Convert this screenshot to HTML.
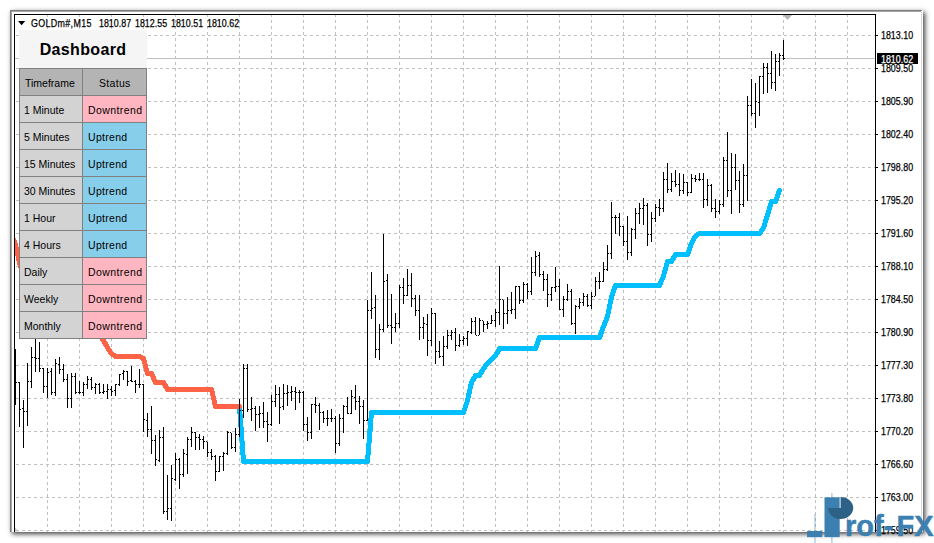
<!DOCTYPE html>
<html><head><meta charset="utf-8"><title>GOLDm#,M15</title>
<style>
html,body{margin:0;padding:0;background:#fff;}
body{width:934px;height:543px;overflow:hidden;position:relative;font-family:"Liberation Sans",sans-serif;}
#frame{position:absolute;left:10px;top:10px;width:913px;height:522px;background:#fff;box-shadow:2px 2px 5px rgba(0,0,0,.75);}
#b1{position:absolute;left:10px;top:10px;width:912px;height:522px;box-sizing:border-box;border-left:1px solid #7c7c7c;border-top:1px solid #7c7c7c;}
#b2{position:absolute;left:11px;top:11px;width:910px;height:521px;box-sizing:border-box;border-left:1px solid #a6a6a6;border-top:1px solid #a6a6a6;}
#bl{position:absolute;left:14px;top:14px;width:1px;height:518px;background:#000;}
#bt{position:absolute;left:14px;top:14px;width:862px;height:1px;background:#000;}
#ax{position:absolute;left:875px;top:14px;width:1px;height:518px;background:#000;}
svg{position:absolute;left:0;top:0;}
.tk{position:absolute;left:876px;width:2px;height:1px;background:#000;}
.pl{-webkit-text-stroke:.25px currentColor;position:absolute;left:881.3px;transform-origin:0 50%;transform:scaleX(.887);font-size:10px;line-height:12px;height:12px;color:#000;white-space:nowrap;}
#bid{position:absolute;left:877px;top:53px;width:41px;height:11px;background:#000;color:#fff;line-height:11px;box-sizing:border-box;}
.tt{-webkit-text-stroke:.25px currentColor;position:absolute;top:17.5px;font-size:10px;transform-origin:0 50%;transform:scaleX(.887);line-height:12px;color:#000;white-space:pre;}
#tri{position:absolute;left:18px;top:21px;width:0;height:0;border-left:3.5px solid transparent;border-right:3.5px solid transparent;border-top:4px solid #000;}
#dt{position:absolute;left:19px;top:30px;width:128px;height:38px;background:#f5f5f5;text-align:center;font-weight:bold;font-size:16px;line-height:39px;letter-spacing:.35px;color:#000;}
.c{position:absolute;height:28px;box-sizing:border-box;border:1px solid #808080;font-size:10.5px;color:#000;background:#d3d3d3;}
.c span{position:absolute;left:4px;top:1px;line-height:27px;white-space:nowrap;}
.c.l{left:19px;width:64px;}
.c.r{left:82px;width:65px;}
.c.h{background:#b4b4b4;}
.c.dn{background:#ffb6c1;}
.c.dn span{left:5px;letter-spacing:.4px;}
.c.up span{left:5px;letter-spacing:.3px;}
.c.up{background:#87ceeb;}
#wm{position:absolute;left:0;top:0;}
#wt{position:absolute;left:845px;top:507.6px;font-weight:bold;font-size:29px;line-height:36px;color:#3b80b1;white-space:nowrap;transform-origin:0 0;transform:scaleX(1.0);-webkit-text-stroke:.5px #3b80b1;}
</style></head><body>
<div id="frame"></div><div id="b1"></div><div id="b2"></div>
<svg width="934" height="543" viewBox="0 0 934 543">
<defs><clipPath id="cp"><rect x="15" y="15" width="860" height="517"/></clipPath></defs>
<g clip-path="url(#cp)">
<g stroke="#c0c0c0" stroke-width="1" stroke-dasharray="3 3" shape-rendering="crispEdges"><line x1="16" y1="35.5" x2="875" y2="35.5"/><line x1="16" y1="68.5" x2="875" y2="68.5"/><line x1="16" y1="101.5" x2="875" y2="101.5"/><line x1="16" y1="134.5" x2="875" y2="134.5"/><line x1="16" y1="167.5" x2="875" y2="167.5"/><line x1="16" y1="200.5" x2="875" y2="200.5"/><line x1="16" y1="233.5" x2="875" y2="233.5"/><line x1="16" y1="266.5" x2="875" y2="266.5"/><line x1="16" y1="299.5" x2="875" y2="299.5"/><line x1="16" y1="332.5" x2="875" y2="332.5"/><line x1="16" y1="365.5" x2="875" y2="365.5"/><line x1="16" y1="398.5" x2="875" y2="398.5"/><line x1="16" y1="431.5" x2="875" y2="431.5"/><line x1="16" y1="464.5" x2="875" y2="464.5"/><line x1="16" y1="497.5" x2="875" y2="497.5"/><line x1="16" y1="530.5" x2="875" y2="530.5"/><line x1="47.5" y1="14" x2="47.5" y2="532"/><line x1="79.5" y1="14" x2="79.5" y2="532"/><line x1="111.5" y1="14" x2="111.5" y2="532"/><line x1="143.5" y1="14" x2="143.5" y2="532"/><line x1="175.5" y1="14" x2="175.5" y2="532"/><line x1="207.5" y1="14" x2="207.5" y2="532"/><line x1="239.5" y1="14" x2="239.5" y2="532"/><line x1="271.5" y1="14" x2="271.5" y2="532"/><line x1="303.5" y1="14" x2="303.5" y2="532"/><line x1="335.5" y1="14" x2="335.5" y2="532"/><line x1="367.5" y1="14" x2="367.5" y2="532"/><line x1="399.5" y1="14" x2="399.5" y2="532"/><line x1="431.5" y1="14" x2="431.5" y2="532"/><line x1="463.5" y1="14" x2="463.5" y2="532"/><line x1="495.5" y1="14" x2="495.5" y2="532"/><line x1="527.5" y1="14" x2="527.5" y2="532"/><line x1="559.5" y1="14" x2="559.5" y2="532"/><line x1="591.5" y1="14" x2="591.5" y2="532"/><line x1="623.5" y1="14" x2="623.5" y2="532"/><line x1="655.5" y1="14" x2="655.5" y2="532"/><line x1="687.5" y1="14" x2="687.5" y2="532"/><line x1="719.5" y1="14" x2="719.5" y2="532"/><line x1="751.5" y1="14" x2="751.5" y2="532"/><line x1="783.5" y1="14" x2="783.5" y2="532"/><line x1="815.5" y1="14" x2="815.5" y2="532"/><line x1="847.5" y1="14" x2="847.5" y2="532"/></g>
<rect x="15" y="58" width="860" height="1" fill="#c0c0c0" shape-rendering="crispEdges"/>
<polyline points="239.5,406.5 243.5,461.5 247.5,461.5 251.5,461.5 255.5,461.5 259.5,461.5 263.5,461.5 267.5,461.5 271.5,461.5 275.5,461.5 279.5,461.5 283.5,461.5 287.5,461.5 291.5,461.5 295.5,461.5 299.5,461.5 303.5,461.5 307.5,461.5 311.5,461.5 315.5,461.5 319.5,461.5 323.5,461.5 327.5,461.5 331.5,461.5 335.5,461.5 339.5,461.5 343.5,461.5 347.5,461.5 351.5,461.5 355.5,461.5 359.5,461.5 363.5,461.5 367.5,461.5 371.5,412.5 375.5,412.5 379.5,412.5 383.5,412.5 387.5,412.5 391.5,412.5 395.5,412.5 399.5,412.5 403.5,412.5 407.5,412.5 411.5,412.5 415.5,412.5 419.5,412.5 423.5,412.5 427.5,412.5 431.5,412.5 435.5,412.5 439.5,412.5 443.5,412.5 447.5,412.5 451.5,412.5 455.5,412.5 459.5,412.5 463.5,412.5 467.5,400.5 471.5,382.5 475.5,375.5 479.5,375.5 483.5,368.5 487.5,363.5 491.5,359.2 495.5,355.8 499.5,348.5 503.5,348.5 507.5,348.5 511.5,348.5 515.5,348.5 519.5,348.5 523.5,348.5 527.5,348.5 531.5,348.5 535.5,348.5 539.5,337.5 543.5,337.5 547.5,337.5 551.5,337.5 555.5,337.5 559.5,337.5 563.5,337.5 567.5,337.5 571.5,337.5 575.5,337.5 579.5,337.5 583.5,337.5 587.5,337.5 591.5,337.5 595.5,337.5 599.5,337.5 603.5,326.6 607.5,316.5 611.5,297.0 615.5,285.5 619.5,285.5 623.5,285.5 627.5,285.5 631.5,285.5 635.5,285.5 639.5,285.5 643.5,285.5 647.5,285.5 651.5,285.5 655.5,285.5 659.5,285.5 663.5,276.0 667.5,261.5 671.5,261.5 675.5,254.5 679.5,254.5 683.5,254.5 687.5,254.5 691.5,243.5 695.5,236.0 699.5,233.5 703.5,233.5 707.5,233.5 711.5,233.5 715.5,233.5 719.5,233.5 723.5,233.5 727.5,233.5 731.5,233.5 735.5,233.5 739.5,233.5 743.5,233.5 747.5,233.5 751.5,233.5 755.5,233.5 759.5,233.5 763.5,228.0 767.5,215.0 771.5,201.5 775.5,201.5 779.5,190.5" fill="none" stroke="#00bfff" stroke-width="4.4" stroke-linejoin="round" stroke-linecap="round"/><polyline points="239.5,406.5 243.5,461.5 247.5,461.5 251.5,461.5 255.5,461.5 259.5,461.5 263.5,461.5 267.5,461.5 271.5,461.5 275.5,461.5 279.5,461.5 283.5,461.5 287.5,461.5 291.5,461.5 295.5,461.5 299.5,461.5 303.5,461.5 307.5,461.5 311.5,461.5 315.5,461.5 319.5,461.5 323.5,461.5 327.5,461.5 331.5,461.5 335.5,461.5 339.5,461.5 343.5,461.5 347.5,461.5 351.5,461.5 355.5,461.5 359.5,461.5 363.5,461.5 367.5,461.5 371.5,412.5 375.5,412.5 379.5,412.5 383.5,412.5 387.5,412.5 391.5,412.5 395.5,412.5 399.5,412.5 403.5,412.5 407.5,412.5 411.5,412.5 415.5,412.5 419.5,412.5 423.5,412.5 427.5,412.5 431.5,412.5 435.5,412.5 439.5,412.5 443.5,412.5 447.5,412.5 451.5,412.5 455.5,412.5 459.5,412.5 463.5,412.5 467.5,400.5 471.5,382.5 475.5,375.5 479.5,375.5 483.5,368.5 487.5,363.5 491.5,359.2 495.5,355.8 499.5,348.5 503.5,348.5 507.5,348.5 511.5,348.5 515.5,348.5 519.5,348.5 523.5,348.5 527.5,348.5 531.5,348.5 535.5,348.5 539.5,337.5 543.5,337.5 547.5,337.5 551.5,337.5 555.5,337.5 559.5,337.5 563.5,337.5 567.5,337.5 571.5,337.5 575.5,337.5 579.5,337.5 583.5,337.5 587.5,337.5 591.5,337.5 595.5,337.5 599.5,337.5 603.5,326.6 607.5,316.5 611.5,297.0 615.5,285.5 619.5,285.5 623.5,285.5 627.5,285.5 631.5,285.5 635.5,285.5 639.5,285.5 643.5,285.5 647.5,285.5 651.5,285.5 655.5,285.5 659.5,285.5 663.5,276.0 667.5,261.5 671.5,261.5 675.5,254.5 679.5,254.5 683.5,254.5 687.5,254.5 691.5,243.5 695.5,236.0 699.5,233.5 703.5,233.5 707.5,233.5 711.5,233.5 715.5,233.5 719.5,233.5 723.5,233.5 727.5,233.5 731.5,233.5 735.5,233.5 739.5,233.5 743.5,233.5 747.5,233.5 751.5,233.5 755.5,233.5 759.5,233.5 763.5,228.0 767.5,215.0 771.5,201.5 775.5,201.5 779.5,190.5" fill="none" stroke="#00bfff" stroke-width="5" stroke-linejoin="round" stroke-linecap="round" shape-rendering="crispEdges"/>
<polyline points="11.5,235.0 15.5,244.5 19.5,263.0 23.5,276.0 27.5,320.0 31.5,320.0 35.5,320.0 39.5,320.0 43.5,320.0 47.5,320.0 51.5,320.0 55.5,320.0 59.5,320.0 63.5,320.0 67.5,320.0 71.5,320.0 75.5,320.0 79.5,320.0 83.5,320.0 87.5,320.0 91.5,320.0 95.5,320.0 99.5,335.0 103.5,340.5 107.5,347.5 111.5,353.5 115.5,356.5 119.5,356.5 123.5,356.5 127.5,356.5 131.5,356.5 135.5,356.5 139.5,356.5 143.5,358.5 147.5,373.5 151.5,373.5 155.5,382.5 159.5,382.5 163.5,382.5 167.5,389.5 171.5,389.5 175.5,389.5 179.5,389.5 183.5,389.5 187.5,389.5 191.5,389.5 195.5,389.5 199.5,389.5 203.5,389.5 207.5,389.5 211.5,389.5 215.5,406.5 219.5,406.5 223.5,406.5 227.5,406.5 231.5,406.5 235.5,406.5 239.5,406.5" fill="none" stroke="#ff6347" stroke-width="4.4" stroke-linejoin="round" stroke-linecap="round"/><polyline points="11.5,235.0 15.5,244.5 19.5,263.0 23.5,276.0 27.5,320.0 31.5,320.0 35.5,320.0 39.5,320.0 43.5,320.0 47.5,320.0 51.5,320.0 55.5,320.0 59.5,320.0 63.5,320.0 67.5,320.0 71.5,320.0 75.5,320.0 79.5,320.0 83.5,320.0 87.5,320.0 91.5,320.0 95.5,320.0 99.5,335.0 103.5,340.5 107.5,347.5 111.5,353.5 115.5,356.5 119.5,356.5 123.5,356.5 127.5,356.5 131.5,356.5 135.5,356.5 139.5,356.5 143.5,358.5 147.5,373.5 151.5,373.5 155.5,382.5 159.5,382.5 163.5,382.5 167.5,389.5 171.5,389.5 175.5,389.5 179.5,389.5 183.5,389.5 187.5,389.5 191.5,389.5 195.5,389.5 199.5,389.5 203.5,389.5 207.5,389.5 211.5,389.5 215.5,406.5 219.5,406.5 223.5,406.5 227.5,406.5 231.5,406.5 235.5,406.5 239.5,406.5" fill="none" stroke="#ff6347" stroke-width="5" stroke-linejoin="round" stroke-linecap="round" shape-rendering="crispEdges"/>
<path fill="#000" shape-rendering="crispEdges" d="M15 349h1v56h-1zM16 382h1v1h-1zM19 382h1v45h-1zM18 382h1v1h-1zM20 409h1v1h-1zM23 400h1v48h-1zM22 408h1v1h-1zM24 411h1v1h-1zM27 363h1v63h-1zM26 411h1v1h-1zM28 381h1v1h-1zM31 347h1v41h-1zM30 381h1v1h-1zM32 357h1v1h-1zM35 339h1v33h-1zM34 357h1v1h-1zM36 358h1v1h-1zM39 342h1v30h-1zM38 358h1v1h-1zM40 368h1v1h-1zM43 368h1v25h-1zM42 368h1v1h-1zM44 386h1v1h-1zM47 368h1v30h-1zM46 386h1v1h-1zM48 372h1v1h-1zM51 368h1v27h-1zM50 371h1v1h-1zM52 392h1v1h-1zM55 359h1v37h-1zM54 392h1v1h-1zM56 363h1v1h-1zM59 357h1v17h-1zM58 364h1v1h-1zM60 369h1v1h-1zM63 364h1v18h-1zM62 369h1v1h-1zM64 379h1v1h-1zM67 374h1v34h-1zM66 379h1v1h-1zM68 398h1v1h-1zM71 373h1v35h-1zM70 398h1v1h-1zM72 376h1v1h-1zM75 373h1v21h-1zM74 376h1v1h-1zM76 392h1v1h-1zM79 381h1v13h-1zM78 392h1v1h-1zM80 392h1v1h-1zM83 382h1v14h-1zM82 392h1v1h-1zM84 384h1v1h-1zM87 376h1v13h-1zM86 384h1v1h-1zM88 379h1v1h-1zM91 377h1v13h-1zM90 379h1v1h-1zM92 387h1v1h-1zM95 383h1v11h-1zM94 387h1v1h-1zM96 384h1v1h-1zM99 383h1v11h-1zM98 384h1v1h-1zM100 392h1v1h-1zM103 384h1v10h-1zM102 392h1v1h-1zM104 391h1v1h-1zM107 384h1v15h-1zM106 391h1v1h-1zM108 389h1v1h-1zM111 386h1v10h-1zM110 389h1v1h-1zM112 391h1v1h-1zM115 384h1v12h-1zM114 390h1v1h-1zM116 384h1v1h-1zM119 374h1v12h-1zM118 384h1v1h-1zM120 374h1v1h-1zM123 370h1v10h-1zM122 373h1v1h-1zM124 371h1v1h-1zM127 371h1v15h-1zM126 371h1v1h-1zM128 381h1v1h-1zM131 366h1v16h-1zM130 380h1v1h-1zM132 381h1v1h-1zM135 380h1v13h-1zM134 381h1v1h-1zM136 384h1v1h-1zM139 369h1v19h-1zM138 384h1v1h-1zM140 384h1v1h-1zM143 384h1v48h-1zM142 384h1v1h-1zM144 419h1v1h-1zM147 413h1v24h-1zM146 420h1v1h-1zM148 429h1v1h-1zM151 406h1v48h-1zM150 429h1v1h-1zM152 440h1v1h-1zM155 435h1v31h-1zM154 440h1v1h-1zM156 459h1v1h-1zM159 430h1v32h-1zM158 460h1v1h-1zM160 437h1v1h-1zM163 427h1v87h-1zM162 437h1v1h-1zM164 511h1v1h-1zM167 475h1v45h-1zM166 511h1v1h-1zM168 508h1v1h-1zM171 465h1v56h-1zM170 508h1v1h-1zM172 478h1v1h-1zM175 453h1v28h-1zM174 479h1v1h-1zM176 459h1v1h-1zM179 458h1v31h-1zM178 459h1v1h-1zM180 474h1v1h-1zM183 449h1v28h-1zM182 474h1v1h-1zM184 453h1v1h-1zM187 437h1v37h-1zM186 454h1v1h-1zM188 439h1v1h-1zM191 427h1v20h-1zM190 439h1v1h-1zM192 432h1v1h-1zM195 432h1v18h-1zM194 432h1v1h-1zM196 437h1v1h-1zM199 434h1v16h-1zM198 437h1v1h-1zM200 439h1v1h-1zM203 436h1v13h-1zM202 439h1v1h-1zM204 441h1v1h-1zM207 442h1v15h-1zM206 441h1v1h-1zM208 452h1v1h-1zM211 449h1v11h-1zM210 452h1v1h-1zM212 456h1v1h-1zM215 455h1v26h-1zM214 456h1v1h-1zM216 471h1v1h-1zM219 456h1v16h-1zM218 471h1v1h-1zM220 456h1v1h-1zM223 452h1v19h-1zM222 456h1v1h-1zM224 453h1v1h-1zM227 431h1v24h-1zM226 453h1v1h-1zM228 432h1v1h-1zM231 433h1v16h-1zM230 432h1v1h-1zM232 447h1v1h-1zM235 428h1v24h-1zM234 447h1v1h-1zM236 434h1v1h-1zM239 399h1v38h-1zM238 434h1v1h-1zM240 410h1v1h-1zM243 364h1v54h-1zM242 410h1v1h-1zM244 368h1v1h-1zM247 364h1v48h-1zM246 368h1v1h-1zM248 409h1v1h-1zM251 397h1v24h-1zM250 409h1v1h-1zM252 408h1v1h-1zM255 406h1v25h-1zM254 408h1v1h-1zM256 414h1v1h-1zM259 406h1v22h-1zM258 414h1v1h-1zM260 413h1v1h-1zM263 402h1v26h-1zM262 413h1v1h-1zM264 421h1v1h-1zM267 412h1v30h-1zM266 421h1v1h-1zM268 424h1v1h-1zM271 395h1v31h-1zM270 424h1v1h-1zM272 401h1v1h-1zM275 385h1v22h-1zM274 401h1v1h-1zM276 394h1v1h-1zM279 387h1v37h-1zM278 394h1v1h-1zM280 407h1v1h-1zM283 384h1v26h-1zM282 406h1v1h-1zM284 393h1v1h-1zM287 385h1v21h-1zM286 393h1v1h-1zM288 392h1v1h-1zM291 386h1v15h-1zM290 392h1v1h-1zM292 391h1v1h-1zM295 387h1v23h-1zM294 391h1v1h-1zM296 392h1v1h-1zM299 390h1v13h-1zM298 392h1v1h-1zM300 392h1v1h-1zM303 391h1v40h-1zM302 392h1v1h-1zM304 424h1v1h-1zM307 417h1v24h-1zM306 424h1v1h-1zM308 432h1v1h-1zM311 404h1v35h-1zM310 432h1v1h-1zM312 404h1v1h-1zM315 397h1v16h-1zM314 404h1v1h-1zM316 405h1v1h-1zM319 403h1v27h-1zM318 405h1v1h-1zM320 412h1v1h-1zM323 411h1v12h-1zM322 412h1v1h-1zM324 418h1v1h-1zM327 410h1v16h-1zM326 418h1v1h-1zM328 418h1v1h-1zM331 409h1v13h-1zM330 418h1v1h-1zM332 418h1v1h-1zM335 416h1v37h-1zM334 418h1v1h-1zM336 443h1v1h-1zM339 414h1v32h-1zM338 443h1v1h-1zM340 418h1v1h-1zM343 405h1v28h-1zM342 418h1v1h-1zM344 406h1v1h-1zM347 397h1v17h-1zM346 406h1v1h-1zM348 413h1v1h-1zM351 390h1v24h-1zM350 413h1v1h-1zM352 396h1v1h-1zM355 385h1v25h-1zM354 397h1v1h-1zM356 401h1v1h-1zM359 396h1v28h-1zM358 401h1v1h-1zM360 406h1v1h-1zM363 400h1v39h-1zM362 406h1v1h-1zM364 420h1v1h-1zM367 300h1v121h-1zM366 420h1v1h-1zM368 310h1v1h-1zM371 272h1v47h-1zM370 310h1v1h-1zM372 308h1v1h-1zM375 295h1v63h-1zM374 307h1v1h-1zM376 349h1v1h-1zM379 324h1v36h-1zM378 349h1v1h-1zM380 329h1v1h-1zM383 234h1v98h-1zM382 329h1v1h-1zM384 281h1v1h-1zM387 274h1v54h-1zM386 280h1v1h-1zM388 325h1v1h-1zM391 294h1v50h-1zM390 325h1v1h-1zM392 327h1v1h-1zM395 313h1v19h-1zM394 327h1v1h-1zM396 323h1v1h-1zM399 285h1v43h-1zM398 323h1v1h-1zM400 287h1v1h-1zM403 278h1v26h-1zM402 287h1v1h-1zM404 295h1v1h-1zM407 269h1v27h-1zM406 295h1v1h-1zM408 285h1v1h-1zM411 273h1v34h-1zM410 285h1v1h-1zM412 298h1v1h-1zM415 295h1v21h-1zM414 298h1v1h-1zM416 310h1v1h-1zM419 295h1v45h-1zM418 310h1v1h-1zM420 327h1v1h-1zM423 317h1v22h-1zM422 327h1v1h-1zM424 323h1v1h-1zM427 314h1v42h-1zM426 324h1v1h-1zM428 340h1v1h-1zM431 308h1v38h-1zM430 340h1v1h-1zM432 313h1v1h-1zM435 313h1v51h-1zM434 313h1v1h-1zM436 351h1v1h-1zM439 341h1v17h-1zM438 351h1v1h-1zM440 356h1v1h-1zM443 336h1v30h-1zM442 356h1v1h-1zM444 346h1v1h-1zM447 330h1v19h-1zM446 346h1v1h-1zM448 335h1v1h-1zM451 330h1v10h-1zM450 335h1v1h-1zM452 332h1v1h-1zM455 328h1v23h-1zM454 332h1v1h-1zM456 345h1v1h-1zM459 334h1v13h-1zM458 345h1v1h-1zM460 340h1v1h-1zM463 336h1v9h-1zM462 340h1v1h-1zM464 338h1v1h-1zM467 331h1v15h-1zM466 338h1v1h-1zM468 331h1v1h-1zM471 318h1v16h-1zM470 332h1v1h-1zM472 321h1v1h-1zM475 317h1v18h-1zM474 321h1v1h-1zM476 335h1v1h-1zM479 318h1v17h-1zM478 335h1v1h-1zM480 320h1v1h-1zM483 321h1v11h-1zM482 320h1v1h-1zM484 324h1v1h-1zM487 321h1v8h-1zM486 324h1v1h-1zM488 323h1v1h-1zM491 315h1v9h-1zM490 323h1v1h-1zM492 320h1v1h-1zM495 309h1v18h-1zM494 320h1v1h-1zM496 312h1v1h-1zM499 266h1v59h-1zM498 312h1v1h-1zM500 299h1v1h-1zM503 300h1v29h-1zM502 299h1v1h-1zM504 313h1v1h-1zM507 297h1v27h-1zM506 313h1v1h-1zM508 310h1v1h-1zM511 292h1v22h-1zM510 310h1v1h-1zM512 309h1v1h-1zM515 286h1v33h-1zM514 309h1v1h-1zM516 286h1v1h-1zM519 286h1v18h-1zM518 286h1v1h-1zM520 300h1v1h-1zM523 282h1v21h-1zM522 300h1v1h-1zM524 284h1v1h-1zM527 283h1v16h-1zM526 284h1v1h-1zM528 291h1v1h-1zM531 257h1v38h-1zM530 291h1v1h-1zM532 272h1v1h-1zM535 251h1v25h-1zM534 272h1v1h-1zM536 256h1v1h-1zM539 252h1v25h-1zM538 255h1v1h-1zM540 274h1v1h-1zM543 271h1v20h-1zM542 274h1v1h-1zM544 279h1v1h-1zM547 274h1v33h-1zM546 279h1v1h-1zM548 294h1v1h-1zM551 287h1v14h-1zM550 294h1v1h-1zM552 287h1v1h-1zM555 267h1v25h-1zM554 287h1v1h-1zM556 286h1v1h-1zM559 279h1v31h-1zM558 286h1v1h-1zM560 309h1v1h-1zM563 296h1v21h-1zM562 309h1v1h-1zM564 299h1v1h-1zM567 284h1v17h-1zM566 299h1v1h-1zM568 291h1v1h-1zM571 289h1v36h-1zM570 291h1v1h-1zM572 323h1v1h-1zM575 305h1v29h-1zM574 323h1v1h-1zM576 306h1v1h-1zM579 298h1v11h-1zM578 306h1v1h-1zM580 302h1v1h-1zM583 293h1v13h-1zM582 302h1v1h-1zM584 296h1v1h-1zM587 294h1v13h-1zM586 296h1v1h-1zM588 305h1v1h-1zM591 292h1v17h-1zM590 305h1v1h-1zM592 296h1v1h-1zM595 277h1v19h-1zM594 296h1v1h-1zM596 281h1v1h-1zM599 272h1v17h-1zM598 281h1v1h-1zM600 281h1v1h-1zM603 262h1v20h-1zM602 281h1v1h-1zM604 269h1v1h-1zM607 245h1v26h-1zM606 269h1v1h-1zM608 253h1v1h-1zM611 202h1v57h-1zM610 253h1v1h-1zM612 217h1v1h-1zM615 215h1v19h-1zM614 217h1v1h-1zM616 217h1v1h-1zM619 213h1v23h-1zM618 217h1v1h-1zM620 226h1v1h-1zM623 226h1v20h-1zM622 226h1v1h-1zM624 241h1v1h-1zM627 216h1v44h-1zM626 241h1v1h-1zM628 252h1v1h-1zM631 228h1v28h-1zM630 252h1v1h-1zM632 229h1v1h-1zM635 208h1v31h-1zM634 229h1v1h-1zM636 213h1v1h-1zM639 203h1v21h-1zM638 213h1v1h-1zM640 208h1v1h-1zM643 198h1v27h-1zM642 208h1v1h-1zM644 205h1v1h-1zM647 203h1v43h-1zM646 205h1v1h-1zM648 234h1v1h-1zM651 212h1v30h-1zM650 234h1v1h-1zM652 218h1v1h-1zM655 204h1v18h-1zM654 218h1v1h-1zM656 207h1v1h-1zM659 199h1v17h-1zM658 207h1v1h-1zM660 208h1v1h-1zM663 172h1v40h-1zM662 208h1v1h-1zM664 179h1v1h-1zM667 163h1v30h-1zM666 179h1v1h-1zM668 189h1v1h-1zM671 173h1v19h-1zM670 189h1v1h-1zM672 181h1v1h-1zM675 170h1v17h-1zM674 181h1v1h-1zM676 184h1v1h-1zM679 173h1v23h-1zM678 184h1v1h-1zM680 190h1v1h-1zM683 174h1v20h-1zM682 190h1v1h-1zM684 182h1v1h-1zM687 182h1v14h-1zM686 182h1v1h-1zM688 192h1v1h-1zM691 174h1v19h-1zM690 192h1v1h-1zM692 178h1v1h-1zM695 175h1v7h-1zM694 178h1v1h-1zM696 179h1v1h-1zM699 173h1v8h-1zM698 179h1v1h-1zM700 179h1v1h-1zM703 173h1v35h-1zM702 179h1v1h-1zM704 199h1v1h-1zM707 179h1v27h-1zM706 199h1v1h-1zM708 185h1v1h-1zM711 184h1v28h-1zM710 185h1v1h-1zM712 208h1v1h-1zM715 199h1v19h-1zM714 208h1v1h-1zM716 211h1v1h-1zM719 200h1v14h-1zM718 211h1v1h-1zM720 204h1v1h-1zM723 157h1v50h-1zM722 204h1v1h-1zM724 160h1v1h-1zM727 132h1v65h-1zM726 160h1v1h-1zM728 190h1v1h-1zM731 153h1v61h-1zM730 190h1v1h-1zM732 167h1v1h-1zM735 154h1v36h-1zM734 167h1v1h-1zM736 180h1v1h-1zM739 171h1v42h-1zM738 180h1v1h-1zM740 204h1v1h-1zM743 164h1v43h-1zM742 204h1v1h-1zM744 175h1v1h-1zM747 96h1v105h-1zM746 175h1v1h-1zM748 105h1v1h-1zM751 79h1v37h-1zM750 105h1v1h-1zM752 113h1v1h-1zM755 83h1v45h-1zM754 113h1v1h-1zM756 101h1v1h-1zM759 76h1v40h-1zM758 102h1v1h-1zM760 76h1v1h-1zM763 63h1v31h-1zM762 76h1v1h-1zM764 67h1v1h-1zM767 63h1v30h-1zM766 67h1v1h-1zM768 73h1v1h-1zM771 51h1v38h-1zM770 73h1v1h-1zM772 82h1v1h-1zM775 54h1v37h-1zM774 82h1v1h-1zM776 61h1v1h-1zM779 53h1v23h-1zM778 61h1v1h-1zM780 55h1v1h-1zM783 40h1v20h-1zM782 55h1v1h-1zM784 58h1v1h-1z"/>
<path d="M783 15h9l-4.5 5z" fill="#b4b4b4"/>
<path d="M15 527.5l4 4h-4z" fill="#c8c8c8"/>
</g>
</svg>
<div style="position:absolute;left:921px;top:12px;width:1px;height:520px;background:#d6d6d6"></div><div id="bl"></div><div id="bt"></div><div id="ax"></div>
<div class="tk" style="top:35px"></div><div class="pl" style="top:30px">1813.10</div><div class="tk" style="top:68px"></div><div class="pl" style="top:63px">1809.50</div><div class="tk" style="top:101px"></div><div class="pl" style="top:96px">1805.90</div><div class="tk" style="top:134px"></div><div class="pl" style="top:129px">1802.40</div><div class="tk" style="top:167px"></div><div class="pl" style="top:162px">1798.80</div><div class="tk" style="top:200px"></div><div class="pl" style="top:195px">1795.20</div><div class="tk" style="top:233px"></div><div class="pl" style="top:228px">1791.60</div><div class="tk" style="top:266px"></div><div class="pl" style="top:261px">1788.10</div><div class="tk" style="top:299px"></div><div class="pl" style="top:294px">1784.50</div><div class="tk" style="top:332px"></div><div class="pl" style="top:327px">1780.90</div><div class="tk" style="top:365px"></div><div class="pl" style="top:360px">1777.30</div><div class="tk" style="top:398px"></div><div class="pl" style="top:393px">1773.80</div><div class="tk" style="top:431px"></div><div class="pl" style="top:426px">1770.20</div><div class="tk" style="top:464px"></div><div class="pl" style="top:459px">1766.60</div><div class="tk" style="top:497px"></div><div class="pl" style="top:492px">1763.00</div><div class="tk" style="top:530px"></div><div class="pl" style="top:525px">1759.50</div>
<div id="bid"><div class="pl" style="left:4.3px;top:.5px;color:#fff">1810.62</div></div>
<svg style="left:17px;top:20px" width="10" height="7" viewBox="17 20 10 7"><path d="M18 21h7.2l-3.6 4.2z" fill="#000"/></svg>
<div class="tt" style="left:30.6px;letter-spacing:.4px">GOLDm#,M15</div><div class="tt" style="left:98.5px">1810.87</div><div class="tt" style="left:134.8px">1812.55</div><div class="tt" style="left:171px">1810.51</div><div class="tt" style="left:206.5px">1810.62</div>
<div id="dt">Dashboard</div>
<div class="c h l" style="top:68px"><span style="left:5px">Timeframe</span></div><div class="c h r" style="top:68px"><span style="left:16px;letter-spacing:.3px">Status</span></div><div class="c l" style="top:95px"><span>1 Minute</span></div><div class="c r dn" style="top:95px"><span>Downtrend</span></div><div class="c l" style="top:122px"><span>5 Minutes</span></div><div class="c r up" style="top:122px"><span>Uptrend</span></div><div class="c l" style="top:149px"><span>15 Minutes</span></div><div class="c r up" style="top:149px"><span>Uptrend</span></div><div class="c l" style="top:176px"><span>30 Minutes</span></div><div class="c r up" style="top:176px"><span>Uptrend</span></div><div class="c l" style="top:203px"><span>1 Hour</span></div><div class="c r up" style="top:203px"><span>Uptrend</span></div><div class="c l" style="top:230px"><span>4 Hours</span></div><div class="c r up" style="top:230px"><span>Uptrend</span></div><div class="c l" style="top:257px"><span>Daily</span></div><div class="c r dn" style="top:257px"><span>Downtrend</span></div><div class="c l" style="top:284px"><span>Weekly</span></div><div class="c r dn" style="top:284px"><span>Downtrend</span></div><div class="c l" style="top:311px"><span>Monthly</span></div><div class="c r dn" style="top:311px"><span>Downtrend</span></div>
<svg id="wm" width="934" height="543" viewBox="0 0 934 543">
<rect x="831.4" y="493" width="1" height="50" fill="#3b80b1" opacity=".55"/>
<rect x="814.5" y="514" width="1" height="29" fill="#3b80b1" opacity=".55"/>
<rect x="824.5" y="497.3" width="15.2" height="39.8" fill="#3b80b1"/>
<rect x="807" y="531" width="15.3" height="6.1" fill="#3b80b1"/>
<path d="M840.6 497.1 A12.6 10.9 0 1 1 828 508 L840.6 508 Z" fill="#2d6186"/>
<rect x="839.7" y="497.3" width="0.9" height="10.7" fill="#9cc0dc"/>
</svg>
<div id="wt">rof<span style="letter-spacing:3.2px">-</span>FX</div>
</body></html>
